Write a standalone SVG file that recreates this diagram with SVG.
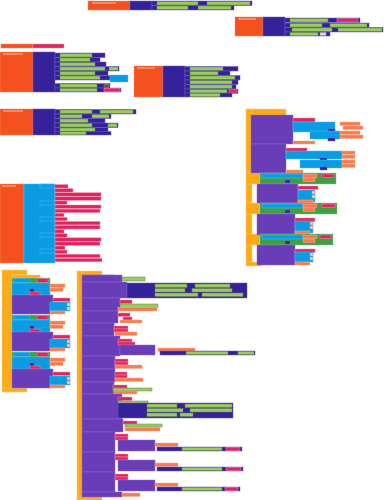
<svg xmlns="http://www.w3.org/2000/svg" width="384" height="500" viewBox="0 0 384 500">
<style>
rect{stroke-width:0.5}
.ev{fill:#f4511e;stroke:#ff8a65}
.evl{fill:#f08a6a;stroke:none}
.ind{fill:#35229a;stroke:#6a5cd0}
.txt{fill:#9cc86a;stroke:#5f8a35}
.pk{fill:#e0245e;stroke:#f48fb1}
.lb{fill:#0a9be3;stroke:#4fc3f7}
.pu{fill:#6a3db8;stroke:#8e6bd0}
.yl{fill:#fbab18;stroke:#ffd180}
.gr{fill:#3e9f45;stroke:#81c784}
.or{fill:#f77b4f;stroke:#ffab91}
.gy{fill:#ddd;stroke:#999}
</style>
<rect width="384" height="500" fill="#fff" stroke="none"/>

<g id="blockA">
<rect class="ev" x="88" y="1" width="42" height="9"/><rect class="evl" x="92" y="2" width="24" height="2"/>
<rect class="ind" x="130" y="1" width="22" height="9"/>
<rect class="ind" x="152" y="1" width="100" height="4.5"/>
<rect class="txt" x="157" y="1.5" width="41" height="3.5"/><rect class="txt" x="207" y="1.5" width="43" height="3.5"/>
<rect class="ind" x="152" y="5.5" width="82" height="4.5"/>
<rect class="txt" x="157" y="6" width="31" height="3.5"/><rect class="txt" x="198" y="6" width="33" height="3.5"/>
</g>

<g id="blockB">
<rect class="ev" x="235" y="17" width="28" height="19"/><rect class="evl" x="238" y="18" width="18" height="2"/>
<rect class="ind" x="263" y="17" width="22" height="19"/>
<rect class="ind" x="285" y="18" width="75" height="4.5"/><rect class="txt" x="290" y="18.5" width="38" height="3.5"/><rect class="pk" x="337" y="18.5" width="21" height="3.5"/>
<rect class="ind" x="285" y="23" width="84" height="4.5"/><rect class="txt" x="290" y="23.5" width="32" height="3.5"/><rect class="txt" x="330" y="23.5" width="37" height="3.5"/>
<rect class="ind" x="285" y="27.5" width="98" height="4.5"/><rect class="txt" x="292" y="28" width="40" height="3.5"/><rect class="txt" x="338" y="28" width="44" height="3.5"/>
<rect class="ind" x="285" y="32" width="45" height="4"/><rect class="txt" x="290" y="32.3" width="28" height="3.5"/><rect class="gy" x="320" y="32.5" width="6" height="3"/>
</g>

<g id="blockC">
<rect class="ev" x="1" y="44" width="32" height="4"/><rect class="pk" x="33" y="44" width="31" height="4"/>
<rect class="ev" x="0" y="52" width="33" height="40"/><rect class="evl" x="3" y="53" width="20" height="2"/>
<rect class="ind" x="33" y="52" width="22" height="40"/>
<rect class="ind" x="55" y="53" width="50" height="4.5"/><rect class="txt" x="60" y="53.5" width="32" height="3.5"/>
<rect class="ind" x="55" y="57.5" width="45" height="4.5"/><rect class="txt" x="60" y="58" width="30" height="3.5"/>
<rect class="ind" x="55" y="62" width="51" height="4.5"/><rect class="txt" x="60" y="62.5" width="35" height="3.5"/>
<rect class="ind" x="55" y="66.5" width="64" height="4.5"/><rect class="txt" x="60" y="67" width="45" height="3.5"/><rect class="txt" x="109" y="67" width="9" height="3.5"/>
<rect class="ind" x="55" y="71" width="53" height="4.5"/><rect class="txt" x="60" y="71.5" width="35" height="3.5"/>
<rect class="ind" x="55" y="75.5" width="55" height="4.5"/><rect class="txt" x="60" y="76" width="40" height="3.5"/><rect class="lb" x="110" y="75" width="18" height="7"/>
<rect class="ind" x="55" y="83.5" width="55" height="4.5"/><rect class="txt" x="60" y="84" width="37" height="3.5"/><rect class="gy" x="104" y="84.3" width="5" height="3" style="fill:#555"/>
<rect class="ind" x="55" y="88" width="66" height="4"/><rect class="txt" x="60" y="88.3" width="37" height="3.5"/><rect class="pk" x="104" y="88.3" width="16" height="3.5"/>
</g>

<g id="blockD">
<rect class="ev" x="134" y="66" width="29" height="31"/><rect class="evl" x="137" y="67" width="18" height="2"/>
<rect class="ind" x="163" y="66" width="22" height="31"/>
<rect class="ind" x="185" y="66.5" width="53" height="4.5"/><rect class="txt" x="190" y="67" width="33" height="3.5"/>
<rect class="ind" x="185" y="71" width="45" height="4.5"/><rect class="txt" x="190" y="71.5" width="28" height="3.5"/>
<rect class="ind" x="185" y="75.5" width="55" height="4.5"/><rect class="txt" x="190" y="76" width="45" height="3.5"/>
<rect class="ind" x="185" y="80" width="53" height="4.5"/><rect class="txt" x="190" y="80.5" width="42" height="3.5"/>
<rect class="ind" x="185" y="84.5" width="51" height="4.5"/><rect class="txt" x="190" y="85" width="42" height="3.5"/>
<rect class="ind" x="185" y="89" width="53" height="4.5"/><rect class="txt" x="190" y="89.5" width="37" height="3.5"/><rect class="pk" x="229" y="89.5" width="8" height="3.5"/>
<rect class="ind" x="185" y="93" width="47" height="4"/><rect class="txt" x="190" y="93.3" width="30" height="3.5"/>
</g>

<g id="blockE">
<rect class="ev" x="0" y="109" width="33" height="26"/><rect class="evl" x="3" y="110" width="20" height="2"/>
<rect class="ind" x="33" y="109" width="22" height="26"/>
<rect class="ind" x="55" y="109.5" width="81" height="4.5"/><rect class="txt" x="60" y="110" width="32" height="3.5"/><rect class="txt" x="100" y="110" width="33" height="3.5"/>
<rect class="ind" x="55" y="114" width="56" height="4.5"/><rect class="txt" x="60" y="114.5" width="22" height="3.5"/><rect class="txt" x="92" y="114.5" width="17" height="3.5"/>
<rect class="ind" x="55" y="118.5" width="50" height="4.5"/><rect class="txt" x="60" y="119" width="28" height="3.5"/>
<rect class="ind" x="55" y="123" width="63" height="4.5"/><rect class="txt" x="60" y="123.5" width="32" height="3.5"/><rect class="txt" x="108" y="123.5" width="9" height="3.5"/>
<rect class="ind" x="55" y="127.5" width="53" height="4.5"/><rect class="txt" x="60" y="128" width="35" height="3.5"/>
<rect class="ind" x="55" y="131.5" width="56" height="3.5"/><rect class="txt" x="60" y="131.8" width="26" height="3"/>
</g>

<g id="blockF">
<rect class="yl" x="246" y="109" width="40" height="7"/>
<rect class="yl" x="246" y="109" width="6" height="157"/>
<rect class="yl" x="246" y="173" width="14" height="11"/><rect class="yl" x="246" y="203" width="14" height="11"/><rect class="yl" x="246" y="234" width="14" height="11"/>
<rect class="yl" x="246" y="262" width="16" height="4"/>
<rect class="pu" x="251" y="115" width="42" height="29"/>
<rect class="pk" x="293" y="118" width="22" height="4"/>
<rect class="lb" x="293" y="122" width="42" height="10"/><rect class="or" x="340" y="122" width="20" height="3.5"/><rect class="or" x="343" y="126" width="20" height="3.5"/>
<rect class="ind" x="328" y="129" width="7" height="3"/>
<rect class="lb" x="310" y="131" width="30" height="8"/><rect class="or" x="340" y="131" width="20" height="3.5"/><rect class="or" x="340" y="135" width="23" height="3.5"/>
<rect class="ind" x="328" y="138" width="7" height="3"/>
<rect class="or" x="293" y="141" width="22" height="3"/>
<rect class="pu" x="251" y="144" width="35" height="29"/>
<rect class="pk" x="286" y="148" width="21" height="3.5"/>
<rect class="lb" x="286" y="151" width="56" height="8"/><rect class="or" x="342" y="151" width="13" height="3.5"/><rect class="or" x="342" y="155" width="13" height="3.5"/>
<rect class="ind" x="320" y="158" width="7" height="3"/>
<rect class="lb" x="300" y="160" width="42" height="8"/><rect class="or" x="342" y="160" width="13" height="3.5"/><rect class="or" x="342" y="164" width="13" height="3.5"/>
<rect class="ind" x="320" y="167" width="7" height="3"/>
<rect class="or" x="286" y="170" width="17" height="3"/>
<rect class="gr" x="260" y="173" width="76" height="11"/>
<rect class="lb" x="262" y="174" width="41" height="4"/><rect class="or" x="303" y="174" width="14" height="3.5"/><rect class="or" x="303" y="178" width="12" height="3.5"/><rect class="pk" x="322" y="174" width="12" height="3.5"/><rect class="ind" x="285" y="180" width="5" height="3"/>
<rect class="pu" x="257" y="184" width="41" height="19"/>
<rect class="pk" x="298" y="186" width="20" height="3.5"/><rect class="lb" x="298" y="190" width="17" height="12"/><rect class="gy" x="312" y="191" width="3" height="3"/><rect class="gy" x="312" y="195" width="3" height="3"/>
<rect class="or" x="298" y="200" width="15" height="3"/>
<rect class="gr" x="260" y="203" width="77" height="11"/>
<rect class="lb" x="262" y="204" width="41" height="4"/><rect class="or" x="303" y="204" width="14" height="3.5"/><rect class="or" x="303" y="208" width="12" height="3.5"/><rect class="pk" x="322" y="204" width="13" height="3.5"/><rect class="ind" x="285" y="210" width="5" height="3"/>
<rect class="pu" x="257" y="214" width="38" height="21"/>
<rect class="pk" x="295" y="218" width="20" height="3.5"/><rect class="lb" x="295" y="221" width="18" height="12"/><rect class="gy" x="310" y="222" width="3" height="3"/><rect class="gy" x="310" y="226" width="3" height="3"/>
<rect class="or" x="295" y="231" width="15" height="3"/>
<rect class="gr" x="260" y="234" width="73" height="11"/>
<rect class="lb" x="262" y="235" width="41" height="4"/><rect class="or" x="303" y="235" width="14" height="3.5"/><rect class="or" x="303" y="239" width="12" height="3.5"/><rect class="pk" x="320" y="235" width="11" height="3.5"/><rect class="ind" x="285" y="241" width="5" height="3"/>
<rect class="pu" x="257" y="245" width="38" height="20"/>
<rect class="pk" x="295" y="249" width="20" height="3.5"/><rect class="lb" x="295" y="252" width="18" height="10"/><rect class="gy" x="310" y="253" width="3" height="3"/><rect class="gy" x="310" y="257" width="3" height="3"/>
<rect class="or" x="295" y="262" width="15" height="3"/>
</g>

<g id="blockG">
<rect class="ev" x="0" y="184" width="24" height="79"/><rect class="evl" x="2" y="185" width="14" height="2"/>
<rect class="lb" x="24" y="184" width="31" height="79"/>
<rect class="lb" x="40" y="184" width="15" height="4"/><rect class="lb" x="40" y="201" width="15" height="4"/><rect class="lb" x="40" y="217" width="15" height="4"/><rect class="lb" x="40" y="233" width="15" height="4"/><rect class="lb" x="40" y="249" width="15" height="4"/>
<rect class="pk" x="55" y="184.5" width="13" height="3.5"/>
<rect class="pk" x="55" y="188.6" width="18" height="3.5"/>
<rect class="pk" x="55" y="192.7" width="46" height="3.5"/>
<rect class="pk" x="55" y="196.8" width="46" height="3.5"/>
<rect class="pk" x="55" y="200.9" width="12" height="3.5"/>
<rect class="pk" x="55" y="205" width="46" height="3.5"/>
<rect class="pk" x="55" y="209.1" width="45" height="3.5"/>
<rect class="pk" x="55" y="213.2" width="9" height="3.5"/>
<rect class="pk" x="55" y="217.3" width="12" height="3.5"/>
<rect class="pk" x="55" y="221.4" width="45" height="3.5"/>
<rect class="pk" x="55" y="225.5" width="45" height="3.5"/>
<rect class="pk" x="55" y="229.6" width="9" height="3.5"/>
<rect class="pk" x="55" y="233.7" width="12" height="3.5"/>
<rect class="pk" x="55" y="237.8" width="46" height="3.5"/>
<rect class="pk" x="55" y="241.9" width="45" height="3.5"/>
<rect class="pk" x="55" y="246" width="10" height="3.5"/>
<rect class="pk" x="55" y="250.1" width="12" height="3.5"/>
<rect class="pk" x="55" y="254.2" width="45" height="3.5"/>
<rect class="pk" x="55" y="258.3" width="47" height="3.5"/>
</g>

<g id="blockH">
<rect class="yl" x="2" y="270" width="25" height="5"/><rect class="yl" x="2" y="275" width="38" height="3"/>
<rect class="yl" x="2" y="270" width="10" height="122"/><rect class="yl" x="2" y="388" width="25" height="4"/>
<g id="h1">
<rect class="gr" x="12" y="278" width="38" height="5"/><rect class="lb" x="14" y="278.5" width="16" height="4"/><rect class="pk" x="37" y="278.5" width="11" height="4"/>
<rect class="lb" x="12" y="283" width="38" height="12"/><rect class="or" x="50" y="284" width="15" height="3.5"/><rect class="or" x="50" y="288" width="13" height="3.5"/><rect class="ind" x="30" y="289" width="4" height="3"/><rect class="pk" x="30" y="292" width="10" height="3"/>
<rect class="pu" x="12" y="295" width="41" height="19"/><rect class="pk" x="53" y="298" width="17" height="3.5"/><rect class="lb" x="50" y="302" width="20" height="9"/><rect class="gy" x="67" y="303" width="3" height="3"/><rect class="gy" x="67" y="307" width="3" height="3"/><rect class="or" x="50" y="311" width="15" height="3"/>
</g>
<g id="h2">
<rect class="gr" x="12" y="315" width="38" height="5"/><rect class="lb" x="14" y="315.5" width="16" height="4"/><rect class="pk" x="37" y="315.5" width="11" height="4"/>
<rect class="lb" x="12" y="320" width="38" height="12"/><rect class="or" x="50" y="321" width="15" height="3.5"/><rect class="or" x="50" y="325" width="13" height="3.5"/><rect class="ind" x="30" y="326" width="4" height="3"/><rect class="pk" x="30" y="329" width="10" height="3"/>
<rect class="pu" x="12" y="332" width="41" height="19"/><rect class="pk" x="53" y="335" width="17" height="3.5"/><rect class="lb" x="50" y="339" width="20" height="9"/><rect class="gy" x="67" y="340" width="3" height="3"/><rect class="gy" x="67" y="344" width="3" height="3"/><rect class="or" x="50" y="348" width="15" height="3"/>
</g>
<g id="h3">
<rect class="gr" x="12" y="352" width="38" height="5"/><rect class="lb" x="14" y="352.5" width="16" height="4"/><rect class="pk" x="37" y="352.5" width="11" height="4"/>
<rect class="lb" x="12" y="357" width="38" height="12"/><rect class="or" x="50" y="358" width="15" height="3.5"/><rect class="or" x="50" y="362" width="13" height="3.5"/><rect class="ind" x="30" y="363" width="4" height="3"/><rect class="pk" x="30" y="366" width="10" height="3"/>
<rect class="pu" x="12" y="369" width="41" height="19"/><rect class="pk" x="53" y="372" width="17" height="3.5"/><rect class="lb" x="50" y="376" width="20" height="9"/><rect class="gy" x="67" y="377" width="3" height="3"/><rect class="gy" x="67" y="381" width="3" height="3"/><rect class="or" x="50" y="385" width="15" height="3"/>
</g>
</g>

<g id="blockI">
<rect class="yl" x="77" y="271" width="25" height="5"/>
<rect class="yl" x="77" y="271" width="5" height="229"/><rect class="yl" x="77" y="496" width="25" height="4"/>
<rect class="pu" x="82" y="275" width="32" height="221"/>
<rect class="pu" x="82" y="275" width="40" height="7"/><rect class="txt" x="122" y="277" width="23" height="4"/>
<rect class="pu" x="82" y="282" width="45" height="16"/>
<rect class="ind" x="127" y="283" width="120" height="15"/>
<rect class="txt" x="155" y="284" width="32" height="3.5"/><rect class="txt" x="195" y="284" width="35" height="3.5"/>
<rect class="txt" x="155" y="288.5" width="30" height="3.5"/><rect class="txt" x="192" y="288.5" width="40" height="3.5"/>
<rect class="txt" x="155" y="293" width="43" height="3.5"/><rect class="txt" x="202" y="293" width="41" height="3.5"/>
<rect class="pu" x="82" y="298" width="38" height="13"/><rect class="pk" x="120" y="300" width="12" height="3.5"/><rect class="txt" x="120" y="304" width="38" height="3.5"/><rect class="or" x="118" y="307.5" width="39" height="3.5"/>
<rect class="pu" x="82" y="311" width="36" height="12"/><rect class="pk" x="118" y="313" width="12" height="3.5"/><rect class="pk" x="123" y="317" width="9" height="3"/><rect class="or" x="120" y="320" width="22" height="3"/>
<rect class="pu" x="82" y="323" width="32" height="13"/><rect class="pk" x="114" y="326" width="14" height="3"/><rect class="pk" x="114" y="329" width="14" height="3"/><rect class="or" x="115" y="332" width="22" height="3.5"/>
<rect class="pu" x="82" y="336" width="38" height="20"/><rect class="pk" x="118" y="339" width="14" height="3"/><rect class="pk" x="118" y="342" width="17" height="3"/>
<rect class="pu" x="120" y="345" width="35" height="10"/><rect class="or" x="158" y="348" width="37" height="3.5"/>
<rect class="ind" x="160" y="351" width="95" height="4"/><rect class="txt" x="186" y="351.3" width="42" height="3.3"/><rect class="txt" x="238" y="351.3" width="16" height="3.3"/>
<rect class="pu" x="82" y="356" width="33" height="13"/><rect class="pk" x="115" y="359" width="13" height="3"/><rect class="pk" x="115" y="362" width="13" height="3"/><rect class="or" x="115" y="365" width="27" height="3.5"/>
<rect class="pu" x="82" y="369" width="33" height="13"/><rect class="pk" x="115" y="372" width="12" height="3"/><rect class="pk" x="115" y="375" width="12" height="3"/><rect class="or" x="115" y="378" width="28" height="3.5"/>
<rect class="pu" x="82" y="382" width="31" height="12"/><rect class="pk" x="113" y="385" width="14" height="3"/><rect class="txt" x="113" y="388" width="39" height="3"/><rect class="or" x="114" y="391" width="23" height="3"/>
<rect class="pu" x="82" y="394" width="40" height="25"/><rect class="pk" x="118" y="397" width="14" height="3.5"/><rect class="txt" x="118" y="401" width="30" height="2.5"/>
<rect class="ind" x="118" y="403" width="115" height="15"/>
<rect class="txt" x="147" y="404" width="30" height="3.5"/><rect class="txt" x="185" y="404" width="47" height="3.5"/>
<rect class="txt" x="147" y="408.5" width="36" height="3.5"/><rect class="txt" x="190" y="408.5" width="42" height="3.5"/>
<rect class="txt" x="147" y="413" width="30" height="3.5"/><rect class="txt" x="180" y="413" width="13" height="3.5"/>
<rect class="pu" x="82" y="419" width="41" height="13"/><rect class="pk" x="123" y="421" width="14" height="3"/><rect class="txt" x="125" y="424" width="37" height="3"/><rect class="or" x="125" y="427.5" width="35" height="3.5"/>
<rect class="pu" x="82" y="432" width="33" height="20"/><rect class="pk" x="115" y="434" width="13" height="3"/><rect class="pk" x="115" y="437" width="13" height="3"/>
<rect class="pu" x="118" y="440" width="37" height="11"/><rect class="or" x="155" y="443" width="23" height="3.5"/>
<rect class="ind" x="157" y="447" width="85" height="4"/><rect class="txt" x="182" y="447.3" width="40" height="3.3"/><rect class="pk" x="226" y="447.3" width="14" height="3.3"/>
<rect class="pu" x="82" y="452" width="33" height="20"/><rect class="pk" x="115" y="454" width="13" height="3"/><rect class="pk" x="115" y="457" width="13" height="3"/>
<rect class="pu" x="118" y="460" width="37" height="11"/><rect class="or" x="155" y="463" width="23" height="3.5"/>
<rect class="ind" x="157" y="467" width="86" height="4"/><rect class="txt" x="182" y="467.3" width="40" height="3.3"/><rect class="pk" x="226" y="467.3" width="15" height="3.3"/>
<rect class="pu" x="82" y="472" width="33" height="20"/><rect class="pk" x="115" y="474" width="13" height="3"/><rect class="pk" x="115" y="477" width="13" height="3"/>
<rect class="pu" x="118" y="480" width="37" height="11"/><rect class="or" x="155" y="483" width="23" height="3.5"/>
<rect class="ind" x="157" y="487" width="83" height="4"/><rect class="txt" x="182" y="487.3" width="40" height="3.3"/><rect class="pk" x="225" y="487.3" width="13" height="3.3"/>
<rect class="pu" x="82" y="492" width="40" height="5"/><rect class="or" x="122" y="493" width="18" height="3.5"/>
</g>
</svg>
